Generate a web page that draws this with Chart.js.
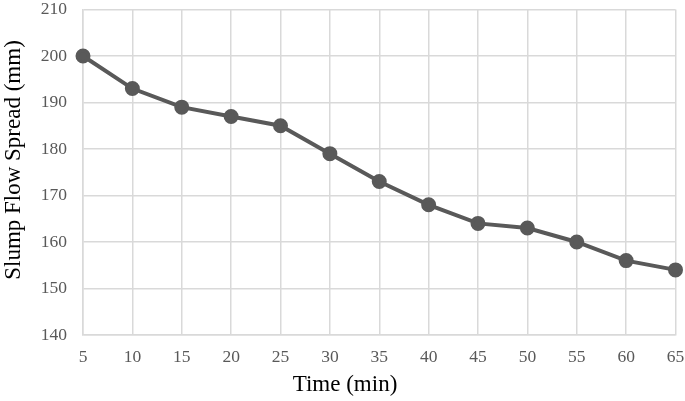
<!DOCTYPE html>
<html>
<head>
<meta charset="utf-8">
<script src="https://cdn.jsdelivr.net/npm/chart.js@4"></script>
<style>
  html, body { margin: 0; padding: 0; background: #fff; }
  #wrap { width: 685px; height: 401px; }
</style>
</head>
<body>
<div id="wrap"><canvas id="slumpChart"></canvas></div>
<script>
const timeLabels = ["5", "10", "15", "20", "25", "30", "35", "40", "45", "50", "55", "60", "65"];
const spreadValues = [200, 193, 189, 187, 185, 179, 173, 168, 164, 163, 160, 156, 154];
const yTicks = [140, 150, 160, 170, 180, 190, 200, 210];
const xTitle = "Time (min)";
const yTitle = "Slump Flow Spread (mm)";

const serif = "'Liberation Serif', 'Times New Roman', serif";

// axis titles sit where the original put them (centred on the figure, not the plot)
const axisTitles = {
  id: "axisTitles",
  afterDraw(chart) {
    const c = chart.ctx;
    c.save();
    c.fillStyle = "#000";
    c.font = "23px " + serif;
    c.textAlign = "center";
    c.textBaseline = "middle";
    c.fillText(xTitle, 345, 385);
    c.translate(14, 160);
    c.rotate(-Math.PI / 2);
    c.fillText(yTitle, 0, 0);
    c.restore();
  }
};

const ctx = document.getElementById("slumpChart").getContext("2d");
new Chart(ctx, {
  type: "line",
  data: {
    labels: timeLabels,
    datasets: [{
      data: spreadValues,
      borderColor: "#595959",
      backgroundColor: "#595959",
      borderWidth: 4,
      pointRadius: 5.5,
      pointHoverRadius: 5.5,
      tension: 0,
      fill: false
    }]
  },
  options: {
    responsive: true,
    maintainAspectRatio: false,
    animation: false,
    layout: { padding: { top: 8, right: 9, left: 0, bottom: 0 } },
    plugins: {
      legend: { display: false },
      tooltip: { enabled: false }
    },
    scales: {
      x: {
        type: "category",
        offset: false,
        grid: { color: "#d9d9d9", lineWidth: 1.5, drawTicks: false, offset: false },
        border: { color: "#d9d9d9", width: 1.5 },
        ticks: {
          color: "#595959",
          font: { family: serif, size: 17.5 },
          padding: 12,
          maxRotation: 0,
          autoSkip: false
        },
        afterFit: s => {
          s.height = 66;
          s.paddingLeft = 0;
          s.paddingRight = 0;
        }
      },
      y: {
        min: 140,
        max: 210,
        afterBuildTicks: s => { s.ticks = yTicks.map(v => ({ value: v })); },
        grid: { color: "#d9d9d9", lineWidth: 1.5, drawTicks: false },
        border: { color: "#d9d9d9", width: 1.5 },
        ticks: {
          color: "#595959",
          font: { family: serif, size: 17.5 },
          padding: 16
        },
        afterFit: s => {
          s.width = 83;
          s.paddingTop = 0;
          s.paddingBottom = 0;
        }
      }
    }
  },
  plugins: [axisTitles]
});
</script>
</body>
</html>
